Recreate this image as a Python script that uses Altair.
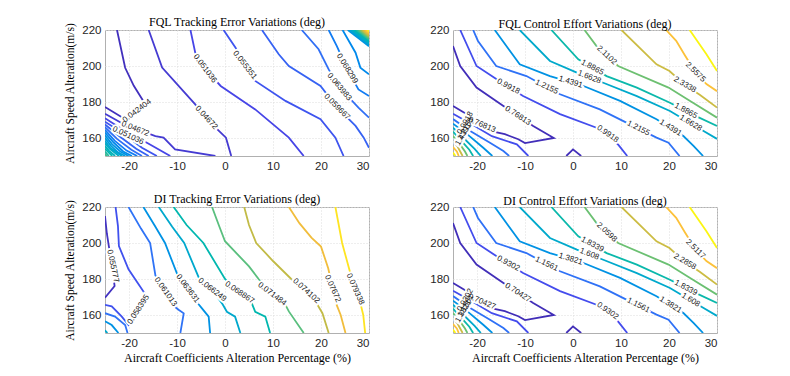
import altair as alt
import pandas as pd

# ---------------- colours (parula-like) ----------------
PARULA = ["#3e26a8", "#4747eb", "#2f73f6", "#1d98dd", "#0db0bf",
          "#3cbd92", "#c0bb47", "#fbbd3c", "#f9fb0e"]

X_TICKS = [-20, -10, 0, 10, 20, 30]
Y_TICKS = [160, 180, 200, 220]
X_DOMAIN = [-25, 30]
Y_DOMAIN = [150, 220]

# ---------------- FQL tracking error ----------------
TE_FQL_LEVEL = [0.042404, 0.04672, 0.04672, 0.051036, 0.051036, 0.055351, 0.055351,
                0.059667, 0.059667, 0.063983, 0.063983, 0.068299, 0.068299,
                0.072615, 0.072615, 0.076931, 0.081246, 0.085562, 0.089878,
                0.094194, 0.09851, 0.10283, 0.10714,
                0.076931, 0.081246, 0.085562, 0.089878, 0.094194, 0.09851, 0.10283,
                0.10714, 0.11146, 0.11577, 0.12009, 0.1244, 0.12872, 0.13304,
                0.13735, 0.14167, 0.14598]
TE_FQL_X = [
    [-22.5, -20.8, -19.0, -16.6, -18.6, -20.8, -25.0],
    [-15.9, -13.1, -6.2, -4.0, -1.0, 0.2, 1.3],
    [-25.0, -21.0, -14.5, -12.8, -10.4, -2.0],
    [-7.2, -6.2, -4.2, -0.9, 6.3, 13.3, 16.4],
    [-25.0, -21.5, -15.9, -11.4],
    [-0.3, 2.2, 4.1, 6.3, 12.6, 19.9, 23.0, 24.7],
    [-25.0, -21.5, -17.3, -14.2],
    [7.7, 11.2, 13.3, 19.9, 23.3, 27.2, 28.9, 30.0],
    [-25.0, -22.0, -18.5, -15.9],
    [16.0, 19.5, 21.6, 23.8, 27.8, 30.0],
    [-25.0, -22.5, -19.5, -17.3],
    [21.6, 23.3, 25.4, 27.8, 30.0],
    [-25.0, -23.0, -20.5, -18.3],
    [24.5, 27.2, 28.2, 30.0],
    [-25.0, -23.2, -21.2, -19.4],
    [-25.0, -23.5, -21.8, -20.1],
    [-25.0, -23.7, -22.3, -20.8],
    [-25.0, -23.9, -21.5],
    [-25.0, -24.0, -22.1],
    [-25.0, -24.2, -22.9],
    [-25.0, -23.5],
    [-25.0, -24.2],
    [-25.0, -24.6],
    [25.6, 30.0], [25.9, 30.0], [26.2, 30.0], [26.5, 30.0], [26.8, 30.0],
    [27.1, 30.0], [27.4, 30.0], [27.7, 30.0], [28.0, 30.0], [28.3, 30.0],
    [28.6, 30.0], [28.8, 30.0], [29.0, 30.0], [29.2, 30.0], [29.4, 30.0],
    [29.6, 30.0], [29.8, 30.0],
]
TE_FQL_Y = [
    [220, 199, 189, 178.7, 174.4, 170.4, 177.2],
    [220, 199.1, 178.7, 171.0, 163.3, 160.2, 150],
    [173.5, 167.5, 161.1, 160.2, 153.7, 150],
    [220, 207.4, 198.5, 188.9, 175.9, 160.2, 150],
    [171, 165, 156.8, 150],
    [220, 210.2, 200.4, 191.7, 180.6, 170.4, 160.2, 150],
    [169, 163, 154.6, 150],
    [220, 206.5, 200, 188.9, 177.2, 166.7, 160.2, 154.6],
    [167.5, 161, 154, 150],
    [220, 209.3, 198.1, 188.3, 176.9, 171.3],
    [166, 159.5, 153.5, 150],
    [220, 211.1, 198.5, 187, 183.3],
    [164.5, 158.5, 153, 150],
    [220, 207.4, 199.1, 195.4],
    [163, 157.5, 152.5, 150],
    [161.5, 156.5, 152.5, 150],
    [160, 155.5, 152, 150],
    [158.5, 154.5, 150],
    [157, 154, 150],
    [155.5, 153, 150],
    [154, 150],
    [152.5, 150],
    [151, 150],
    [220, 211.0], [220, 211.6], [220, 212.3], [220, 212.9], [220, 213.4],
    [220, 214.0], [220, 214.6], [220, 215.1], [220, 215.7], [220, 216.2],
    [220, 216.7], [220, 217.2], [220, 217.7], [220, 218.2], [220, 218.6],
    [220, 219.0], [220, 219.5],
]
TE_FQL_LABEL = ["0.042404", "0.04672", "0.051036", "0.055351", "0.059667",
                "0.063983", "0.068299", "0.04672", "0.051036"]
TE_FQL_LABEL_X = [-18.3, -3.9, -4.2, 4.1, 23.3, 23.8, 25.4, -18.7, -20.2]
TE_FQL_LABEL_Y = [175.0, 171.2, 198.5, 200.4, 177.2, 188.3, 198.5, 165.0, 161.3]
TE_FQL_LABEL_ANGLE = [323, 48, 53, 52, 45, 50, 58, 22, 25]
TE_FQL_CDOM = [0.038, 0.148]

# ---------------- control effort (both panels share the shape) ----------------
CE_FQL_LEVELS = [0.76813, 0.9918, 1.2155, 1.4391, 1.6628, 1.8865, 2.1102, 2.3338, 2.5575, 2.7811]
CE_DI_LEVELS = [0.70427, 0.9302, 1.1561, 1.3821, 1.608, 1.8339, 2.0598, 2.2858, 2.5117, 2.7376]
CE_LINE_LEVEL = [0, 0, 1, 2, 3, 4, 5, 6, 7, 8, 9, 1, 2, 3, 4, 5, 6, 7, 8, 9]
CE_X = [
    [-25.0, -23.5, -20.1, -14.5, -8.3, -4.0, -10.0, -11.4, -14.2, -16.6, -21.5, -25.0],
    [-1.4, 0.0, 1.7],
    [-23.5, -20.1, -15.9, -10.4, -2.7, 4.9, 7.2, 9.5, 11.3],
    [-20.8, -19.8, -16.0, -9.7, -2.7, 5.6, 10.5, 17.4, 19.9, 22.2],
    [-16.3, -11.1, -4.8, 2.2, 9.8, 17.4, 23.0, 25.1, 27.1],
    [-11.1, -4.8, 0.8, 6.3, 13.3, 20.2, 27.2, 30.0],
    [-4.5, 1.1, 7.0, 13.3, 20.2, 24.4, 30.0],
    [2.4, 4.9, 9.4, 19.9, 24.4, 30.0],
    [10.1, 17.4, 20.1, 23.3, 26.4, 30.0],
    [19.4, 21.5, 23.3, 25.5, 27.8, 30.0],
    [24.3, 27.8, 30.0],
    [-25.0, -21.0, -16.9, -11.7, -9.3],
    [-25.0, -21.5, -17.3, -14.5, -13.3],
    [-25.0, -22.0, -18.7, -16.8],
    [-25.0, -22.8, -20.5, -19.2],
    [-25.0, -23.3, -21.6, -20.8],
    [-25.0, -23.7, -22.5, -22.0],
    [-25.0, -24.0, -23.0],
    [-25.0, -24.2, -23.8],
    [-25.0, -24.5],
]
CE_Y = [
    [211.1, 200, 188, 177.8, 166.7, 160.0, 157.2, 159.3, 162.1, 163.5, 172.2, 177.8],
    [150, 153.7, 150],
    [220, 200, 192.6, 183.3, 173.3, 165.7, 162.2, 156, 150],
    [220, 213.9, 200, 194.4, 184.3, 175.9, 169.4, 160.2, 157.4, 150],
    [220, 200.9, 194.4, 188.9, 180.6, 170.4, 161.1, 155.6, 150],
    [220, 202.8, 196.3, 190.7, 183.3, 175, 163.9, 159.5],
    [220, 203.7, 194.4, 188, 179.6, 173.7, 166.7],
    [220, 211.1, 200, 188, 180.6, 171.3],
    [220, 200.9, 197.2, 189.5, 184, 176.9],
    [220, 214, 206, 196.5, 190, 186],
    [220, 206.5, 197.2],
    [173.5, 167.5, 161, 156.5, 150],
    [170.5, 164, 157.4, 152.8, 150],
    [168, 162, 154.6, 150],
    [165.7, 160, 154, 150],
    [163.5, 158.5, 153.5, 150],
    [161.1, 157, 152.5, 150],
    [158.3, 155, 150],
    [155, 152.5, 150],
    [152, 150],
]
CE_FQL_LABEL = ["0.76813", "0.9918", "1.2155", "1.4391", "1.6628", "1.8865", "2.1102",
                "0.9918", "1.2155", "1.4391", "1.6628", "1.8865", "2.3338", "2.5575",
                "0.76813", "0.9918", "1.2155", "1.4391"]
CE_DI_LABEL = ["0.70427", "0.9302", "1.1561", "1.3821", "1.608", "1.8339", "2.0598",
               "0.9302", "1.1561", "1.3821", "1.608", "1.8339", "2.2858", "2.5117",
               "0.70427", "0.9302", "1.1561", "1.3821"]
CE_LABEL_X = [-11.5, -13.5, -5.5, -0.5, 3.4, 4.0, 7.0,
              7.2, 13.6, 20.3, 24.5, 23.5, 23.3, 25.5,
              -19.0, -22.4, -22.3, -22.8]
CE_LABEL_Y = [172.3, 188.5, 188.3, 191.0, 193.7, 199.1, 205.9,
              162.2, 165.3, 165.6, 168.2, 175.0, 189.5, 196.5,
              167.2, 168.3, 165.0, 162.0]
CE_LABEL_ANGLE = [33, 28, 25, 17, 21, 28, 43,
                  35, 27, 32, 31, 28, 30, 45,
                  23, 300, 300, 300]
CE_FQL_CDOM = [0.70, 2.80]
CE_DI_CDOM = [0.64, 2.76]

# ---------------- DI tracking error ----------------
TE_DI_LEVEL = [0.055777, 0.058395, 0.061013, 0.063631, 0.066249,
               0.061013, 0.063631, 0.066249, 0.068867, 0.071484,
               0.074102, 0.07672, 0.079338]
TE_DI_X = [
    [-25.0, -24.6, -24.2, -23.5, -23.0, -25.0],
    [-22.8, -22.3, -22.1, -20.1, -16.6, -18.0, -20.1, -21.5, -23.6, -25.0],
    [-25.0, -22.9, -20.8, -20.3],
    [-25.0, -23.6, -22.2],
    [-25.0, -24.5],
    [-20.1, -17.5, -15.6, -14.5, -12.4, -10.2, -9.6, -8.6, -9.3],
    [-17.0, -14.5, -12.5, -10.0, -7.8, -5.5, -4.8, -3.4, -3.1],
    [-13.8, -11.0, -8.5, -5.5, -2.7, -0.5, 0.4, 2.1, 3.2],
    [-10.7, -8.0, -4.5, 0.0, 3.0, 5.5, 6.3, 8.4, 9.4],
    [-2.7, -1.3, 0.0, 5.0, 7.0, 9.8, 12.5, 13.3, 16.4],
    [4.0, 5.0, 6.5, 10.0, 13.8, 16.9, 19.2, 20.3, 21.6],
    [13.3, 15.5, 18.0, 20.0, 21.5, 22.0, 22.4, 23.2, 24.1, 25.1],
    [23.0, 24.4, 26.1, 27.1, 28.2, 28.8, 29.2],
]
TE_DI_Y = [
    [215, 205, 198.3, 187.2, 176.1, 169.6],
    [220, 209.4, 198.3, 185.4, 171.5, 163.0, 154.4, 159.1, 164.8, 165.6],
    [161, 159.1, 154.4, 150],
    [156.5, 154.4, 150],
    [151.5, 150],
    [220, 208, 200, 182, 172.8, 164, 162.8, 160.9, 150],
    [220, 209, 200, 183, 174.8, 166, 163.7, 159.1, 150],
    [220, 209, 200, 181, 173.9, 166, 161.8, 159.1, 150],
    [220, 210, 200, 180, 172.4, 167, 161.8, 159.1, 150],
    [220, 210, 201, 187, 180, 171.5, 166, 162, 150],
    [220, 210, 200, 190, 180, 173.3, 166, 161, 150],
    [220, 211, 203, 198, 186, 180, 174.6, 166, 160, 150],
    [220, 200, 183.3, 174.3, 166.7, 160, 150],
]
TE_DI_LABEL = ["0.055777", "0.058395", "0.061013", "0.063631", "0.066249",
               "0.068867", "0.071484", "0.074102", "0.07672", "0.079338"]
TE_DI_LABEL_X = [-23.4, -18.0, -12.4, -7.8, -2.7, 3.0, 9.8, 16.9, 22.4, 27.1]
TE_DI_LABEL_Y = [187.2, 163.0, 172.8, 174.6, 173.9, 172.4, 171.5, 173.3, 174.6, 174.3]
TE_DI_LABEL_ANGLE = [78, 303, 55, 53, 38, 34, 37, 42, 66, 66]
TE_DI_CDOM = [0.0545, 0.0805]

Y_TITLE = "Aircraft Speed Alteration(m/s)"
X_TITLE = "Aircraft Coefficients Alteration Percentage (%)"

SERIF = "Liberation Serif"
SANS = "Liberation Sans"
W, H = 264, 126


def panel(title, levels, xs, ys, ltext, lx, ly, lang, cdom, ytitle, xtitle):
    rows = []
    for i, (lv, X, Y) in enumerate(zip(levels, xs, ys)):
        for j, (x, y) in enumerate(zip(X, Y)):
            rows.append({"line": i, "order": j, "x": x, "y": y, "level": lv})
    df = pd.DataFrame(rows)
    lab = pd.DataFrame({"text": ltext, "x": lx, "y": ly, "angle": lang})

    xs_ = alt.Scale(domain=X_DOMAIN, nice=False, zero=False)
    ys_ = alt.Scale(domain=Y_DOMAIN, nice=False, zero=False)
    xaxis = alt.Axis(values=X_TICKS, title=xtitle, labelExpr="toString(datum.value)",
                     titleFont=SERIF, titleFontSize=12, titleFontWeight="normal",
                     titleColor="black", titlePadding=4)
    yaxis = alt.Axis(values=Y_TICKS, title=ytitle, labelExpr="toString(datum.value)",
                     titleFont=SERIF, titleFontSize=11.5, titleFontWeight="normal",
                     titleColor="black", titlePadding=6)
    xenc = alt.X("x:Q", scale=xs_, axis=xaxis)
    yenc = alt.Y("y:Q", scale=ys_, axis=yaxis)
    n = len(PARULA)
    cd = [cdom[0] + (cdom[1] - cdom[0]) * k / (n - 1) for k in range(n)]

    lines = alt.Chart(df).mark_line(strokeWidth=1.8, clip=True).encode(
        x=xenc, y=yenc,
        detail="line:N",
        order="order:Q",
        color=alt.Color("level:Q", scale=alt.Scale(domain=cd, range=PARULA, clamp=True),
                        legend=None),
    )
    halo = alt.Chart(lab).mark_text(font=SANS, fontSize=8, color="white",
                                    stroke="white", strokeWidth=4).encode(
        x=xenc, y=yenc,
        text="text:N",
        angle=alt.Angle("angle:Q", scale=None),
    )
    txt = alt.Chart(lab).mark_text(font=SANS, fontSize=8, color="#1a1a1a").encode(
        x=xenc, y=yenc,
        text="text:N",
        angle=alt.Angle("angle:Q", scale=None),
    )
    return alt.layer(lines, halo, txt).properties(
        width=W, height=H,
        title=alt.TitleParams(title, font=SERIF, fontSize=12, fontWeight="normal",
                              color="black", offset=-7, frame="group"),
    )


p1 = panel("FQL Tracking Error Variations (deg)", TE_FQL_LEVEL, TE_FQL_X, TE_FQL_Y,
           TE_FQL_LABEL, TE_FQL_LABEL_X, TE_FQL_LABEL_Y, TE_FQL_LABEL_ANGLE,
           TE_FQL_CDOM, Y_TITLE, None)
p2 = panel("FQL Control Effort Variations (deg)",
           [CE_FQL_LEVELS[k] for k in CE_LINE_LEVEL], CE_X, CE_Y,
           CE_FQL_LABEL, CE_LABEL_X, CE_LABEL_Y, CE_LABEL_ANGLE,
           CE_FQL_CDOM, None, None)
p3 = panel("DI Tracking Error Variations (deg)", TE_DI_LEVEL, TE_DI_X, TE_DI_Y,
           TE_DI_LABEL, TE_DI_LABEL_X, TE_DI_LABEL_Y, TE_DI_LABEL_ANGLE,
           TE_DI_CDOM, Y_TITLE, X_TITLE)
p4 = panel("DI Control Effort Variations (deg)",
           [CE_DI_LEVELS[k] for k in CE_LINE_LEVEL], CE_X, CE_Y,
           CE_DI_LABEL, CE_LABEL_X, CE_LABEL_Y, CE_LABEL_ANGLE,
           CE_DI_CDOM, None, X_TITLE)

top = alt.hconcat(p1, p2, spacing=59).resolve_scale(color="independent")
bottom = alt.hconcat(p3, p4, spacing=59).resolve_scale(color="independent")

chart = alt.vconcat(top, bottom, spacing=20).resolve_scale(
    color="independent"
).properties(
    padding={"left": 56, "top": 7, "right": 5, "bottom": 2}
).configure_view(
    stroke="#b0b0b0", strokeWidth=1
).configure_axis(
    labelFont=SANS, labelFontSize=11.5, labelColor="#262626",
    ticks=False, domain=False, grid=True, gridColor="#dcdcdc",
    gridDash=[1, 2], labelPadding=4,
)

chart.save("out.html", embed_options={"renderer": "svg", "actions": False})
